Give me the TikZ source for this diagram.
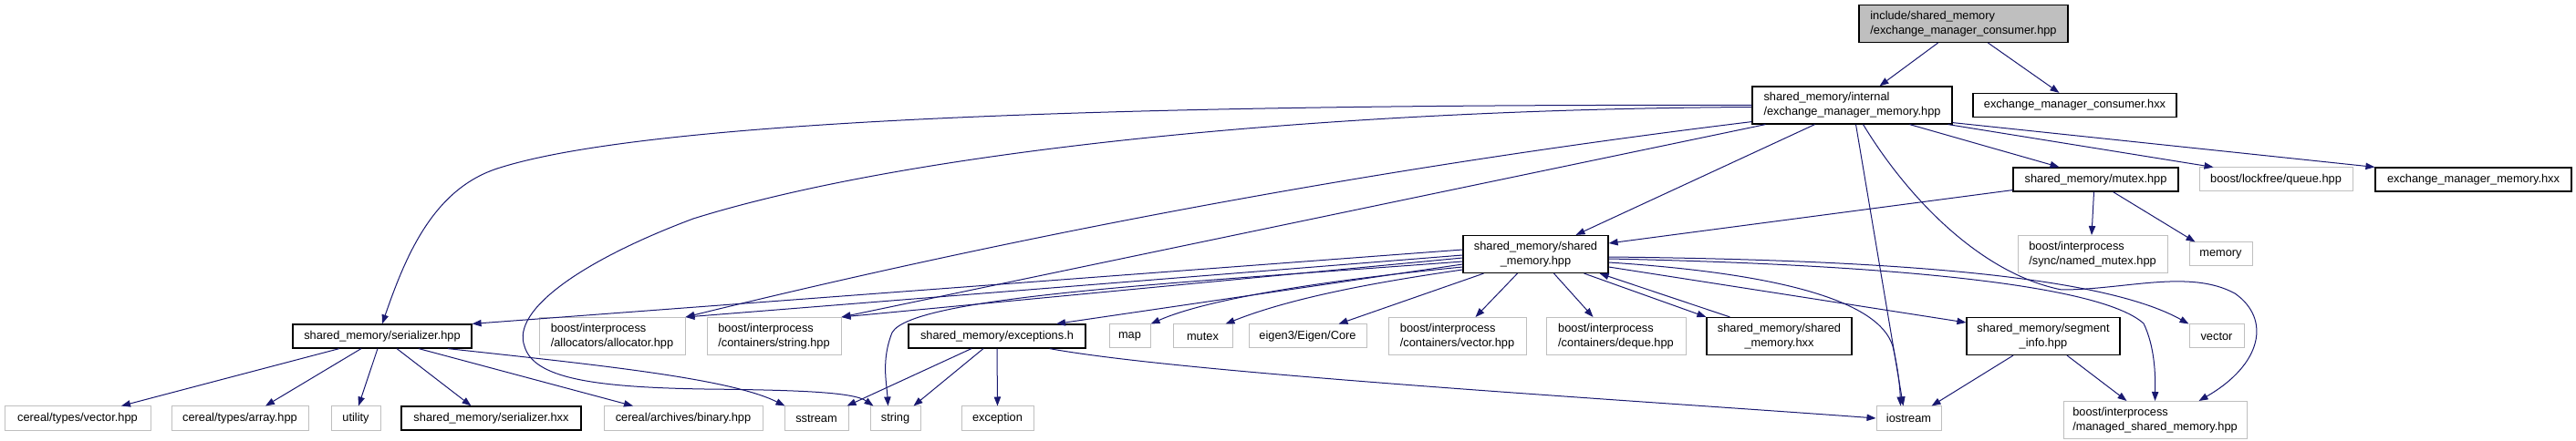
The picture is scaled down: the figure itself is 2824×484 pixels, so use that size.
\documentclass[tikz,border=0pt]{standalone}
\usepackage{fontspec}
\newfontfamily\graphfont{Liberation Sans}
\usepackage{tikz}
\usetikzlibrary{arrows.meta,calc}
\usepackage{xcolor}
\definecolor{edgeblue}{HTML}{191970}
\definecolor{greyfill}{HTML}{BFBFBF}
\tikzset{
  block/.style={
    draw=black, line width=0.9pt, fill=white,
    minimum height=19.5pt, inner sep=0pt,
    align=center, font=\graphfont\fontsize{9.6}{12}\selectfont
  },
  extblock/.style={block, draw=greyfill, line width=0.75pt},
  rootblock/.style={block, fill=greyfill},
  tall/.style={minimum height=30.75pt},
  wd/.style={minimum width=#1*0.75pt},
  arrow/.style={-{Triangle[length=7.5pt,width=5.5pt]}, draw=edgeblue, line width=0.75pt}
}
\begin{document}
\begin{tikzpicture}[x=0.75pt, y=-0.75pt]
  \useasboundingbox (0,0) rectangle (2824,484);

  \node[rootblock, tall, wd=229, align=left] (root) at (2152.5,26) {include/shared\_memory\\/exchange\_manager\_consumer.hpp};

  \node[block, tall, wd=219, align=left] (internal) at (2030.5,115.5) {shared\_memory/internal\\/exchange\_manager\_memory.hpp};
  \node[block, wd=223] (consumerhxx) at (2274.5,115.5) {exchange\_manager\_consumer.hxx};

  \node[block, wd=181] (mutexhpp) at (2297.5,197) {shared\_memory/mutex.hpp};
  \node[extblock, wd=168] (queue) at (2495,197) {boost/lockfree/queue.hpp};
  \node[block, wd=215] (memoryhxx) at (2711.5,197) {exchange\_manager\_memory.hxx};

  \node[block, tall, wd=159] (shmemhpp) at (1683.5,279) {shared\_memory/shared\\\_memory.hpp};
  \node[extblock, tall, wd=164, align=left] (namedmutex) at (2294,279) {boost/interprocess\\/sync/named\_mutex.hpp};
  \node[extblock, wd=69] (memory) at (2434.5,279) {memory};

  \node[block, wd=196] (serializerhpp) at (419,369) {shared\_memory/serializer.hpp};
  \node[extblock, tall, wd=160, align=left] (allocator) at (671,369) {boost/interprocess\\/allocators/allocator.hpp};
  \node[extblock, tall, wd=147, align=left] (ipcstring) at (848.5,369) {boost/interprocess\\/containers/string.hpp};
  \node[block, wd=194] (exceptions) at (1093,369) {shared\_memory/exceptions.h};
  \node[extblock, wd=45] (stdmap) at (1238.5,369) {map};
  \node[extblock, wd=65] (stdmutex) at (1318.5,369) {mutex};
  \node[extblock, wd=129] (eigen) at (1433.5,369) {eigen3/Eigen/Core};
  \node[extblock, tall, wd=151, align=left] (ipcvector) at (1597.5,369) {boost/interprocess\\/containers/vector.hpp};
  \node[extblock, tall, wd=153, align=left] (ipcdeque) at (1771.5,369) {boost/interprocess\\/containers/deque.hpp};
  \node[block, tall, wd=159] (shmemhxx) at (1950.5,369) {shared\_memory/shared\\\_memory.hxx};
  \node[block, tall, wd=168] (segment) at (2240,369) {shared\_memory/segment\\\_info.hpp};
  \node[extblock, wd=60] (stdvector) at (2430,369) {vector};

  \node[extblock, wd=160] (cerealvector) at (85,459) {cereal/types/vector.hpp};
  \node[extblock, wd=150] (cerealarray) at (263,459) {cereal/types/array.hpp};
  \node[extblock, wd=54] (utility) at (390,459) {utility};
  \node[block, wd=197] (serializerhxx) at (538.5,459) {shared\_memory/serializer.hxx};
  \node[extblock, wd=174] (binary) at (749,459) {cereal/archives/binary.hpp};
  \node[extblock, wd=70] (sstream) at (895,459) {sstream};
  \node[extblock, wd=55] (stdstring) at (981.5,459) {string};
  \node[extblock, wd=79] (exception) at (1093.5,459) {exception};
  \node[extblock, wd=71] (iostream) at (2092.5,459) {iostream};
  \node[extblock, tall, wd=201, align=left] (managed) at (2362.5,461) {boost/interprocess\\/managed\_shared\_memory.hpp};

  \draw[arrow] ($(root.south)+(-28,0)$) -- ($(internal.north)+(30,0)$);
  \draw[arrow] ($(root.south)+(27,0)$) -- ($(consumerhxx.north)+(-17,0)$);

  \draw[arrow] ($(internal.south)+(63,0)$) -- ($(mutexhpp.north)+(-40,0)$);
  \draw[arrow] ($(internal.south east)+(-5,0)$) -- ($(queue.north west)+(16,0)$);
  \draw[arrow] ($(internal.south east)+(0,-2)$) -- (memoryhxx.north west);
  \draw[arrow] ($(internal.south)+(4,0)$) -- ($(iostream.north)+(-6,0)$);
  \draw[arrow] ($(internal.south)+(12,0)$) .. controls (2090,215) and (2170,300) .. (2260,318)
    .. controls (2330,318) and (2400,295) .. (2450,322)
    .. controls (2490,350) and (2480,400) .. ($(managed.north)+(48,0)$);
  \draw[arrow] ($(internal.south)+(-41,0)$) -- ($(shmemhpp.north)+(44,0)$);
  \draw[arrow] (internal.west) .. controls (1300,114) and (720,128) .. (545,185)
    .. controls (475,208) and (445,280) .. (serializerhpp.north);
  \draw[arrow] ($(internal.west)+(0,2)$) .. controls (1450,120) and (1000,165) .. (760,240)
    .. controls (640,285) and (560,340) .. (575,380)
    .. controls (585,415) and (650,425) .. (772,427)
    .. controls (870,428) and (935,430) .. ($(stdstring.north west)+(4,0)$);
  \draw[arrow] ($(internal.south west)+(0,-3)$) .. controls (1540,180) and (1150,250) .. (allocator.north east);
  \draw[arrow] ($(internal.south west)+(15,0)$) -- (ipcstring.north east);

  \draw[arrow] ($(mutexhpp.south west)+(0,-2)$) -- ($(shmemhpp.east)+(0,-12)$);
  \draw[arrow] ($(mutexhpp.south)+(-2,0)$) -- ($(namedmutex.north)+(-1,0)$);
  \draw[arrow] ($(mutexhpp.south)+(19,0)$) -- ($(memory.north west)+(7,0)$);

  \draw[arrow] ($(shmemhpp.west)+(0,-5)$) -- (serializerhpp.north east);
  \draw[arrow] ($(shmemhpp.west)+(0,1)$) -- (allocator.north east);
  \draw[arrow] ($(shmemhpp.west)+(0,4)$) -- (ipcstring.north east);
  \draw[arrow] ($(shmemhpp.west)+(0,8)$) .. controls (1300,310) and (1000,325) .. (978,365)
    .. controls (966,395) and (972,420) .. ($(stdstring.north)+(-8,0)$);
  \draw[arrow] ($(shmemhpp.west)+(0,11)$) -- ($(exceptions.north)+(65,0)$);
  \draw[arrow] ($(shmemhpp.west)+(0,14)$) .. controls (1480,305) and (1330,325) .. (stdmap.north east);
  \draw[arrow] ($(shmemhpp.west)+(0,17)$) .. controls (1520,308) and (1420,325) .. ($(stdmutex.north east)+(-8,0)$);
  \draw[arrow] ($(shmemhpp.south)+(-57,0)$) -- ($(eigen.north)+(34,0)$);
  \draw[arrow] ($(shmemhpp.south)+(-20,0)$) -- ($(ipcvector.north)+(20,0)$);
  \draw[arrow] ($(shmemhpp.south)+(20,0)$) -- ($(ipcdeque.north)+(-25,0)$);
  \draw[arrow] ($(shmemhpp.south east)+(-27,0)$) -- (shmemhxx.north west);
  \draw[arrow] ($(shmemhxx.north west)+(26,0)$) -- ($(shmemhpp.south east)+(-10,0)$);
  \draw[arrow] ($(shmemhpp.east)+(0,14)$) -- ($(segment.west)+(0,-15)$);
  \draw[arrow] ($(shmemhpp.east)+(0,3)$) .. controls (2050,285) and (2300,300) .. (stdvector.north west);
  \draw[arrow] ($(shmemhpp.east)+(0,5)$) .. controls (2050,290) and (2300,310) .. (2350,355)
    .. controls (2362,380) and (2363,410) .. (managed.north);
  \draw[arrow] ($(shmemhpp.east)+(0,9)$) .. controls (1950,300) and (2060,330) .. (2075,380)
    .. controls (2082,410) and (2083,430) .. ($(iostream.north)+(-9,0)$);

  \draw[arrow] ($(segment.south)+(-33,0)$) -- ($(iostream.north east)+(-11,0)$);
  \draw[arrow] ($(segment.south)+(26,0)$) -- ($(managed.north)+(-31,0)$);

  \draw[arrow] ($(serializerhpp.south)+(-47,0)$) -- ($(cerealvector.north)+(48,0)$);
  \draw[arrow] ($(serializerhpp.south)+(-23,0)$) -- ($(cerealarray.north)+(28,0)$);
  \draw[arrow] ($(serializerhpp.south)+(-5,0)$) -- ($(utility.north)+(3,0)$);
  \draw[arrow] ($(serializerhpp.south)+(16,0)$) -- ($(serializerhxx.north)+(-22,0)$);
  \draw[arrow] ($(serializerhpp.south)+(40,0)$) -- ($(binary.north)+(-55,0)$);
  \draw[arrow] ($(serializerhpp.south)+(72,0)$) .. controls (650,400) and (800,415) .. ($(sstream.north west)+(1,0)$);

  \draw[arrow] ($(exceptions.south)+(-28,0)$) -- ($(sstream.north east)+(-2,0)$);
  \draw[arrow] ($(exceptions.south)+(-15,0)$) -- ($(stdstring.north)+(20,0)$);
  \draw[arrow] (exceptions.south) -- (exception.north);
  \draw[arrow] ($(exceptions.south east)+(-40,0)$) .. controls (1300,410) and (1800,440) .. (iostream.west);
\end{tikzpicture}
\end{document}
